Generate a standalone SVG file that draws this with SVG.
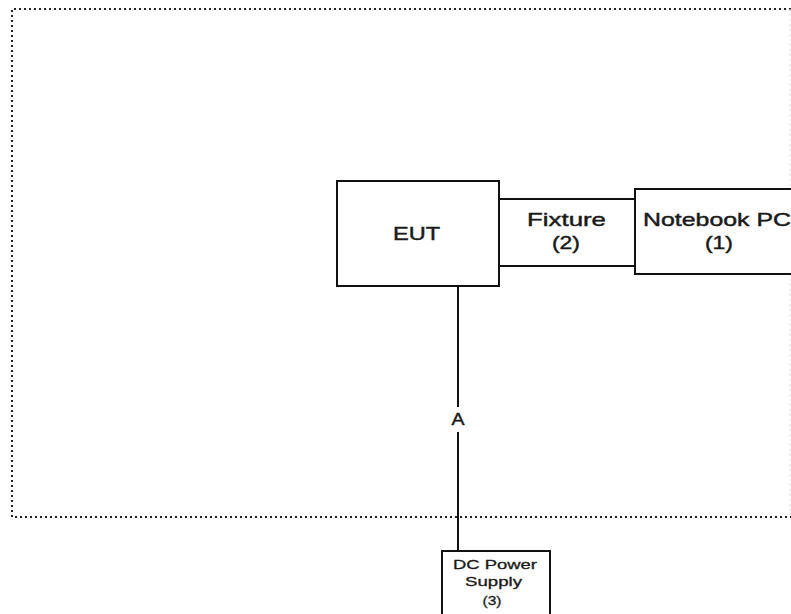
<svg xmlns="http://www.w3.org/2000/svg" width="791" height="614" viewBox="0 0 791 614">
<style>
.box{fill:#fff;stroke:#111;stroke-width:2}
.lbl{font-family:"Liberation Sans",Arial,sans-serif;fill:#1a1a1a;stroke:#1a1a1a;stroke-width:0.45;text-anchor:middle}
.big{font-size:19px}
.sm{font-size:13px;stroke-width:0.3}
.wire{stroke:#111;stroke-width:2;fill:none}
.border{fill:none;stroke:#222;stroke-width:2;stroke-dasharray:2 3}
</style>
<rect width="791" height="614" fill="#fff"/>
<g id="boundary">
<polyline class="border" points="791,9 12,9 12,517 791,517"/>
<line x1="790" y1="9" x2="790" y2="517" stroke="#ddd" stroke-width="1" stroke-dasharray="2 3"/>
</g>
<g id="connectors">
<line class="wire" x1="458" y1="286" x2="458" y2="407"/>
<line class="wire" x1="458" y1="432" x2="458" y2="551"/>
<text class="lbl" x="458" y="425" font-size="17" stroke-width="0.3" textLength="13" lengthAdjust="spacingAndGlyphs">A</text>
</g>
<g id="eut">
<rect class="box" x="337" y="181" width="162" height="105"/>
<text class="lbl big" x="416.5" y="240" textLength="47" lengthAdjust="spacingAndGlyphs">EUT</text>
</g>
<g id="fixture">
<rect class="box" x="499" y="199" width="136" height="67"/>
<text class="lbl big" x="566.5" y="226" textLength="79" lengthAdjust="spacingAndGlyphs">Fixture</text>
<text class="lbl big" x="566" y="249" textLength="28" lengthAdjust="spacingAndGlyphs">(2)</text>
</g>
<g id="notebook">
<rect class="box" x="635" y="189" width="170" height="85"/>
<text class="lbl big" x="717" y="226" textLength="148" lengthAdjust="spacingAndGlyphs">Notebook PC</text>
<text class="lbl big" x="719" y="249" textLength="28" lengthAdjust="spacingAndGlyphs">(1)</text>
</g>
<g id="dcpower">
<rect class="box" x="442" y="551" width="108" height="80"/>
<text class="lbl sm" x="495" y="569" textLength="84" lengthAdjust="spacingAndGlyphs">DC Power</text>
<text class="lbl sm" x="493.5" y="586" textLength="57" lengthAdjust="spacingAndGlyphs">Supply</text>
<text class="lbl sm" x="492" y="605" textLength="19" lengthAdjust="spacingAndGlyphs">(3)</text>
</g>
</svg>
